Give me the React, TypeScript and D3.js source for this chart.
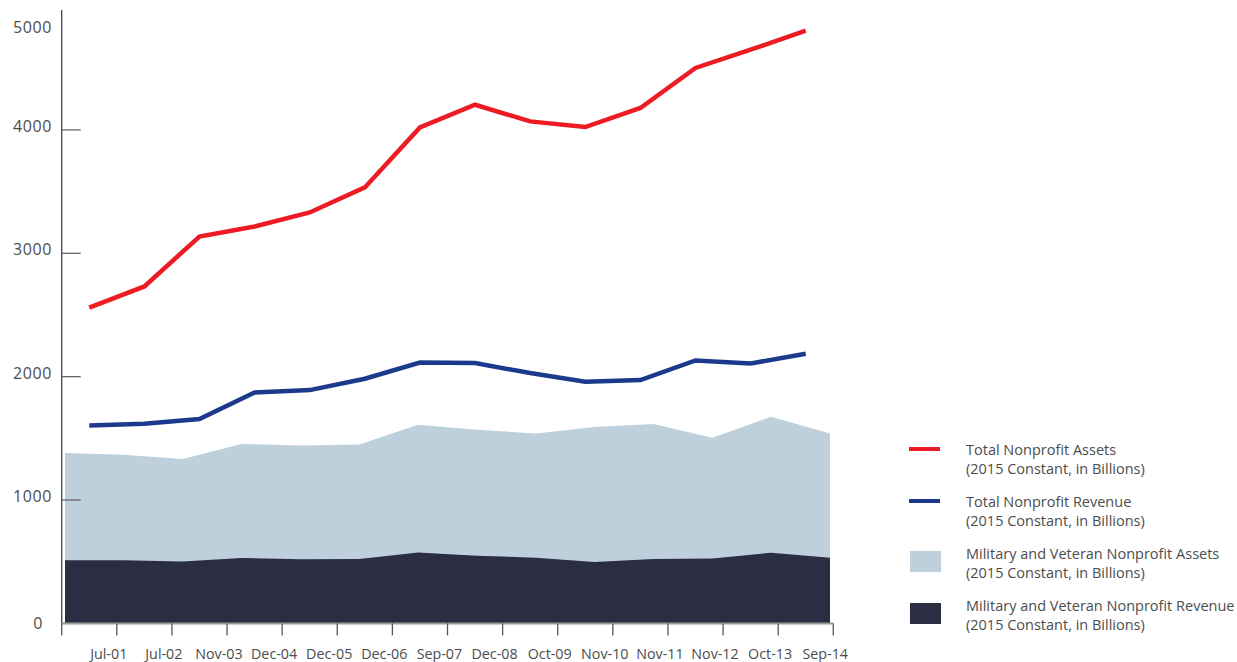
import React from "react";
import * as d3 from "d3";

const categories = ["Jul-01","Jul-02","Nov-03","Dec-04","Dec-05","Dec-06","Sep-07","Dec-08","Oct-09","Nov-10","Nov-11","Nov-12","Oct-13","Sep-14"];
const totalAssets = [2560,2731,3136,3217,3331,3534,4020,4204,4069,4023,4178,4502,4650,4804];
const totalRevenue = [1605,1618,1656,1872,1891,1983,2115,2110,2029,1959,1972,2131,2107,2186];
const milAssets = [1381,1368,1332,1454,1443,1451,1610,1570,1540,1592,1616,1505,1675,1540];
const milRevenue = [511,511,502,530,519,522,575,549,532,497,522,527,573,532];
const yTicks = [0,1000,2000,3000,4000];
const topLabel = "5000";

const legendItems = [
  { kind: "line", color: "#ED1C24", l1: "Total Nonprofit Assets", l2: "(2015 Constant, in Billions)" },
  { kind: "line", color: "#1B3A8C", l1: "Total Nonprofit Revenue", l2: "(2015 Constant, in Billions)" },
  { kind: "rect", color: "#BFD0DD", l1: "Military and Veteran Nonprofit Assets", l2: "(2015 Constant, in Billions)" },
  { kind: "rect", color: "#2B2D42", l1: "Military and Veteran Nonprofit Revenue", l2: "(2015 Constant, in Billions)" },
];

const FONT = "'Open Sans', 'Noto Sans', sans-serif";
const TEXT = "#4d4d4d";

export default function App() {
  const W = 1237, H = 662;
  const x0 = 61.7, x1 = 833.3, yBottom = 623.4, yTop = 10;
  const x = d3.scaleBand<string>().domain(categories).range([x0, x1]).padding(0);
  const xa = d3.scalePoint<string>().domain(categories).range([65, 830]);
  const y = d3.scaleLinear().domain([0, 4972]).range([yBottom, yTop]);

  const cx = (c: string) => (x(c) as number) + x.bandwidth() / 2;
  const lineGen = (vals: number[]) =>
    d3.line<number>().x((_, i) => cx(categories[i])).y((d) => y(d))(vals) as string;
  const areaGen = (vals: number[]) =>
    d3.area<number>().x((_, i) => xa(categories[i]) as number).y0(y(0)).y1((d) => y(d))(vals) as string;

  const edges = [...categories.map((c) => x(c) as number), x1];

  return (
    <svg width={W} height={H} style={{ position: "absolute", left: 0, top: 0, background: "#fff" }} fontFamily={FONT}>
      <path d={areaGen(milAssets)} fill="#BFD0DD" />
      <path d={areaGen(milRevenue)} fill="#2B2D42" />
      <path d={lineGen(totalRevenue)} fill="none" stroke="#1B3A8C" strokeWidth={4.5} strokeLinejoin="miter" />
      <path d={lineGen(totalAssets)} fill="none" stroke="#ED1C24" strokeWidth={4.5} strokeLinejoin="miter" />

      {/* y axis */}
      <line x1={x0} x2={x0} y1={yTop} y2={yBottom} stroke="#444" strokeWidth={1.3} />
      {yTicks.map((t) => (
        <g key={t}>
          <line x1={x0} x2={x0 + 19} y1={y(t)} y2={y(t)} stroke="#666" strokeWidth={1.3} />
          <text x={t === 0 ? 43 : 52} y={y(t) - (t === 0 ? 0 : 4)} textAnchor="end" dominantBaseline="central" fontSize={16} fill={TEXT} letterSpacing={0.6}>
            {t}
          </text>
        </g>
      ))}
      <text x={52} y={yTop + 17} textAnchor="end" dominantBaseline="central" fontSize={16} fill={TEXT} letterSpacing={0.6}>
        {topLabel}
      </text>

      {/* x axis */}
      <line x1={x0} x2={x1} y1={yBottom} y2={yBottom} stroke="#9a9a9a" strokeWidth={2} />
      {edges.map((e, i) => (
        <line key={i} x1={e} x2={e} y1={yBottom} y2={yBottom + 12} stroke="#555" strokeWidth={1.3} />
      ))}
      {categories.map((c) => (
        <text key={c} x={cx(c) + 19.5} y={653} textAnchor="middle" dominantBaseline="central" fontSize={14.3} fill={TEXT}>
          {c}
        </text>
      ))}

      {/* legend */}
      {legendItems.map((it, i) => {
        const ly = 449 + i * 52;
        return (
          <g key={i}>
            {it.kind === "line" ? (
              <line x1={909} x2={940} y1={ly} y2={ly} stroke={it.color} strokeWidth={4} />
            ) : (
              <rect x={910} y={ly - 2} width={31} height={21} fill={it.color} />
            )}
            <text x={966} y={ly} dominantBaseline="central" fontSize={14.5} fill={TEXT}>{it.l1}</text>
            <text x={966} y={ly + 19} dominantBaseline="central" fontSize={14.5} fill={TEXT}>{it.l2}</text>
          </g>
        );
      })}
    </svg>
  );
}
